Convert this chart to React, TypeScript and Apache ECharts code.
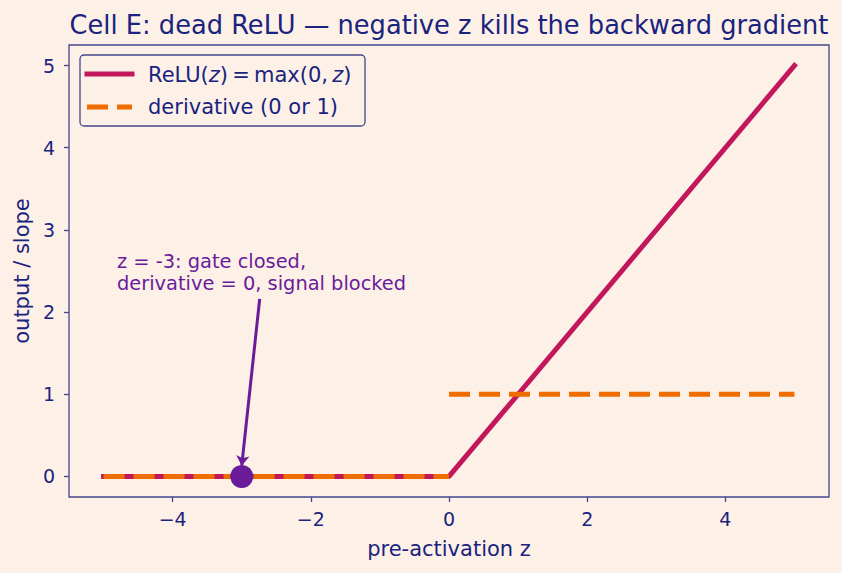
import React, { useEffect, useRef } from "react";
import * as echarts from "echarts";

// ---- data ----
const reluZ = [-5, 0, 5];
const reluOut = [0, 0, 5];
const derivNegZ = [-5, 0];
const derivNegVal = [0, 0];
const derivPosZ = [0, 5];
const derivPosVal = [1, 1];
const gatePoint = [-3, 0];
const arrowFrom = [-2.74, 2.16];
const arrowTo = [-3.0, 0.13];
const xTicks = [-4, -2, 0, 2, 4];
const yTicks = [0, 1, 2, 3, 4, 5];
const xRange = [-5.5, 5.5];
const yRange = [-0.25, 5.25];

const BG = "#fdf1e7";
const NAVY = "#1a237e";
const SPINE = "#45458f";
const CRIMSON = "#c2185b";
const ORANGE = "#ef6c00";
const PURPLE = "#6a1b9a";
const FONT = "DejaVu Sans";

const fmt = (v: number) => String(v).replace("-", "\u2212");

export default function App() {
  const ref = useRef<HTMLDivElement>(null);
  useEffect(() => {
    const chart = echarts.init(ref.current!, null, { renderer: "svg" });
    const zip = (a: number[], b: number[]) => a.map((v, i) => [v, b[i]]);
    chart.setOption({
      animation: false,
      backgroundColor: BG,
      textStyle: { fontFamily: FONT },
      title: { show: false },
      grid: {
        left: 69,
        right: 13,
        top: 45,
        bottom: 76,
        show: true,
        borderColor: SPINE,
        borderWidth: 1.3,
        backgroundColor: "transparent",
      },
      xAxis: {
        type: "value",
        min: xRange[0],
        max: xRange[1],
        name: "pre-activation z",
        nameLocation: "middle",
        nameGap: 41,
        nameTextStyle: { color: NAVY, fontSize: 21, fontFamily: FONT },
        axisLine: { show: false, onZero: false },
        splitLine: { show: false },
        axisTick: { show: true, length: 5, lineStyle: { color: SPINE, width: 1.3 }, customValues: xTicks },
        axisLabel: { color: NAVY, fontSize: 19, margin: 12, fontFamily: FONT, formatter: fmt, customValues: xTicks },
      },
      yAxis: {
        type: "value",
        min: yRange[0],
        max: yRange[1],
        name: "output / slope",
        nameLocation: "middle",
        nameGap: 36,
        nameTextStyle: { color: NAVY, fontSize: 21, fontFamily: FONT },
        axisLine: { show: false, onZero: false },
        splitLine: { show: false },
        axisTick: { show: true, length: 5, lineStyle: { color: SPINE, width: 1.3 }, customValues: yTicks },
        axisLabel: { color: NAVY, fontSize: 19, margin: 14, fontFamily: FONT, formatter: fmt, customValues: yTicks },
      },
      legend: { show: false },
      series: [
        {
          name: "ReLU(z) = max(0, z)",
          type: "line",
          data: zip(reluZ, reluOut),
          symbol: "none",
          lineStyle: { color: CRIMSON, width: 5, cap: "square" },
          z: 2,
        },
        {
          name: "derivative (0 or 1)",
          type: "line",
          data: zip(derivNegZ, derivNegVal),
          symbol: "none",
          lineStyle: { color: ORANGE, width: 5, type: [21, 9], cap: "butt" },
          z: 3,
        },
        {
          name: "derivative (0 or 1)",
          type: "line",
          data: zip(derivPosZ, derivPosVal),
          symbol: "none",
          lineStyle: { color: ORANGE, width: 5, type: [21, 9], cap: "butt" },
          z: 3,
        },
        {
          name: "annotation arrow",
          type: "lines",
          coordinateSystem: "cartesian2d",
          symbol: ["none", "arrow"],
          symbolSize: 10,
          lineStyle: { color: PURPLE, width: 3, opacity: 1, curveness: 0 },
          data: [{ coords: [arrowFrom, arrowTo] }],
          z: 4,
        },
        {
          name: "z = -3",
          type: "scatter",
          data: [gatePoint],
          symbol: "circle",
          symbolSize: 23,
          itemStyle: { color: PURPLE, opacity: 1 },
          z: 5,
        },
      ],
      graphic: [
        {
          type: "text",
          x: 449,
          y: 25,
          z: 11,
          style: {
            text: "Cell E: dead ReLU \u2014 negative z kills the backward gradient",
            fontFamily: FONT,
            fontSize: 25.7,
            fill: NAVY,
            align: "center",
            verticalAlign: "middle",
          },
        },
        {
          type: "rect",
          shape: { x: 80, y: 55, width: 285, height: 71, r: 4 },
          style: { fill: "rgba(253,241,231,0.8)", stroke: SPINE, lineWidth: 1.3 },
          z: 10,
        },
        {
          type: "line",
          shape: { x1: 87, y1: 74, x2: 132, y2: 74 },
          style: { stroke: CRIMSON, lineWidth: 5, lineCap: "square" },
          z: 11,
        },
        {
          type: "line",
          shape: { x1: 87, y1: 107, x2: 132, y2: 107 },
          style: { stroke: ORANGE, lineWidth: 5, lineDash: [21, 9], lineCap: "butt" },
          z: 11,
        },
        {
          type: "text",
          x: 148,
          y: 75,
          z: 11,
          style: {
            text: "{r|ReLU(}{i|z}{r|)\u2009=\u2009max(0,\u2009}{i|z}{r|)}",
            verticalAlign: "middle",
            rich: {
              r: { fontFamily: FONT, fontSize: 21, fill: NAVY },
              i: { fontFamily: FONT, fontSize: 21, fill: NAVY, fontStyle: "italic" },
            },
          },
        },
        {
          type: "text",
          x: 148,
          y: 107,
          z: 11,
          style: {
            text: "derivative (0 or 1)",
            fontFamily: FONT,
            fontSize: 21,
            fill: NAVY,
            verticalAlign: "middle",
          },
        },
        {
          type: "text",
          x: 117,
          y: 261,
          z: 11,
          style: {
            text: "z = -3: gate closed,",
            fontFamily: FONT,
            fontSize: 19.4,
            fill: PURPLE,
            verticalAlign: "middle",
          },
        },
        {
          type: "text",
          x: 117,
          y: 283,
          z: 11,
          style: {
            text: "derivative = 0, signal blocked",
            fontFamily: FONT,
            fontSize: 19.4,
            fill: PURPLE,
            verticalAlign: "middle",
          },
        },
      ],
    });
    return () => chart.dispose();
  }, []);
  return <div ref={ref} style={{ width: 842, height: 573, position: "absolute", left: 0, top: 0 }} />;
}
